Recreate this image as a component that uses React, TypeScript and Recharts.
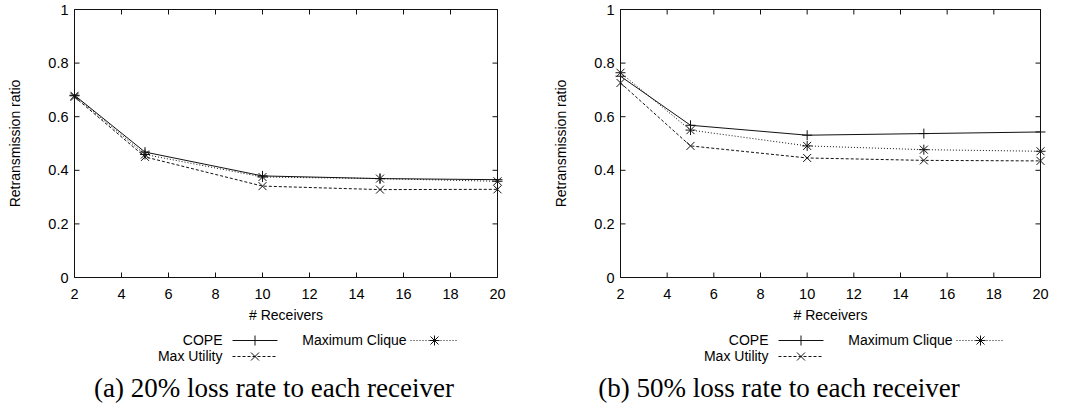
import React from "react";
import { LineChart, Line, XAxis, YAxis } from "recharts";

const receivers = [2, 5, 10, 15, 20];

// 20% loss rate
const copeLow = [0.68, 0.468, 0.379, 0.369, 0.365];
const utilityLow = [0.674, 0.45, 0.341, 0.328, 0.329];
const cliqueLow = [0.678, 0.459, 0.375, 0.369, 0.359];

// 50% loss rate
const copeHigh = [0.751, 0.568, 0.531, 0.537, 0.543];
const utilityHigh = [0.726, 0.491, 0.446, 0.437, 0.435];
const cliqueHigh = [0.764, 0.55, 0.491, 0.477, 0.471];

const xTicks = [2, 4, 6, 8, 10, 12, 14, 16, 18, 20];
const yTicks = [0, 0.2, 0.4, 0.6, 0.8, 1];

const SANS = "'Liberation Sans', Arial, Helvetica, sans-serif";
const SERIF = "'Liberation Serif', 'Times New Roman', serif";
const INK = "#111";
const TICK_LEN = 5;
const FONT_SIZE = 14.5;

type MarkerKind = "plus" | "cross" | "star";

interface SeriesDef {
  key: string;
  name: string;
  dash?: string;
  marker: MarkerKind;
}

const series: SeriesDef[] = [
  { key: "cope", name: "COPE", marker: "plus" },
  { key: "utility", name: "Max Utility", dash: "3 2", marker: "cross" },
  { key: "clique", name: "Maximum Clique", dash: "1 2", marker: "star" },
];

function markerPaths(kind: MarkerKind, cx: number, cy: number) {
  const p = 5;
  const c = 4;
  const plus = `M${cx - p},${cy}H${cx + p}M${cx},${cy - p}V${cy + p}`;
  const cross = `M${cx - c},${cy - c}L${cx + c},${cy + c}M${cx - c},${cy + c}L${cx + c},${cy - c}`;
  if (kind === "plus") return plus;
  if (kind === "cross") return cross;
  return plus + cross;
}

const makeDot = (kind: MarkerKind) => (props: any) => {
  const { cx, cy, index } = props;
  if (cx == null || cy == null) return <g key={`m-${index}`} />;
  return (
    <path
      key={`m-${kind}-${index}`}
      d={markerPaths(kind, cx, cy)}
      stroke={INK}
      strokeWidth={1}
      fill="none"
    />
  );
};

const dots = {
  plus: makeDot("plus"),
  cross: makeDot("cross"),
  star: makeDot("star"),
};

interface PanelProps {
  left: number;
  width: number;
  plotLeft: number;
  plotRight: number;
  captionCenter: number;
  cope: number[];
  utility: number[];
  clique: number[];
  caption: string;
}

const CHART_H = 330;
const PLOT_TOP = 9.5;
const PLOT_BOTTOM = 277.5;
const Y_AXIS_W = 40;
const X_AXIS_H = 20;

function KeyBox({ plotLeft, left }: { plotLeft: number; left: number }) {
  const x0 = plotLeft - left;
  const rows = [
    { s: series[0], textEnd: 148, s0: 158, s1: 203, y: 340 },
    { s: series[1], textEnd: 148, s0: 158, s1: 203, y: 356 },
    { s: series[2], textEnd: 332, s0: 336, s1: 384, y: 340 },
  ];
  return (
    <svg
      width={540}
      height={40}
      style={{ position: "absolute", left: 0, top: 328 }}
    >
      {rows.map((r) => {
        const cy = r.y - 328;
        const mid = x0 + (r.s0 + r.s1) / 2;
        return (
          <g key={r.s.key}>
            <text
              x={x0 + r.textEnd}
              y={cy}
              dy="0.35em"
              textAnchor="end"
              fontFamily={SANS}
              fontSize={14}
              fill="#000"
            >
              {r.s.name}
            </text>
            <line
              x1={x0 + r.s0}
              x2={x0 + r.s1}
              y1={cy + 0.5}
              y2={cy + 0.5}
              stroke={INK}
              strokeDasharray={r.s.dash}
            />
            <path
              d={markerPaths(r.s.marker, mid, cy + 0.5)}
              stroke={INK}
              fill="none"
            />
          </g>
        );
      })}
    </svg>
  );
}

const renderYLabel = (props: any) => {
  const vb = props.viewBox;
  const x = vb.x - 19;
  const y = vb.y + vb.height / 2;
  return (
    <text
      x={x}
      y={y}
      transform={`rotate(-90 ${x} ${y})`}
      textAnchor="middle"
      dy="0.35em"
      fontFamily={SANS}
      fontSize={14}
      fill="#000"
    >
      Retransmission ratio
    </text>
  );
};

// x-axis title, plus the top and right edges of the plot frame
const renderXLabel = (props: any) => {
  const vb = props.viewBox;
  const right = vb.x + vb.width;
  return (
    <g>
      <path
        d={`M${vb.x},${PLOT_TOP}H${right}V${vb.y}`}
        stroke={INK}
        strokeWidth={1}
        fill="none"
      />
      <text
        x={vb.x + vb.width / 2}
        y={vb.y + vb.height + 13}
        dy="0.71em"
        textAnchor="middle"
        fontFamily={SANS}
        fontSize={14}
        fill="#000"
      >
        # Receivers
      </text>
    </g>
  );
};

// bottom tick label with its mirrored inward tick on the top edge
const renderXTick = (props: any) => {
  const { x, y, payload } = props;
  return (
    <g>
      <line
        x1={x}
        x2={x}
        y1={PLOT_TOP}
        y2={PLOT_TOP + TICK_LEN}
        stroke={INK}
        strokeWidth={1}
      />
      <text
        x={x}
        y={y}
        dy="0.71em"
        textAnchor="middle"
        fontFamily={SANS}
        fontSize={FONT_SIZE}
        fill="#000"
      >
        {String(payload.value)}
      </text>
    </g>
  );
};

function Panel(p: PanelProps) {
  const rows = receivers.map((n, i) => ({
    n,
    cope: p.cope[i],
    utility: p.utility[i],
    clique: p.clique[i],
  }));
  const margin = {
    top: PLOT_TOP,
    bottom: CHART_H - PLOT_BOTTOM - X_AXIS_H,
    left: p.plotLeft - p.left - Y_AXIS_W,
    right: p.left + p.width - p.plotRight,
  };
  const plotRight = p.plotRight - p.left;

  // left tick label with its mirrored inward tick on the right edge
  const renderYTick = (props: any) => {
    const { x, y, payload } = props;
    return (
      <g>
        <line
          x1={plotRight - TICK_LEN}
          x2={plotRight}
          y1={y}
          y2={y}
          stroke={INK}
          strokeWidth={1}
        />
        <text
          x={x}
          y={y}
          dy="0.35em"
          textAnchor="end"
          fontFamily={SANS}
          fontSize={FONT_SIZE}
          fill="#000"
        >
          {String(payload.value)}
        </text>
      </g>
    );
  };

  return (
    <div
      style={{
        position: "absolute",
        left: p.left,
        top: 0,
        width: p.width,
        height: 413,
      }}
    >
      <LineChart width={p.width} height={CHART_H} data={rows} margin={margin}>
        <XAxis
          dataKey="n"
          type="number"
          domain={[2, 20]}
          ticks={xTicks}
          height={X_AXIS_H}
          tickSize={-TICK_LEN}
          tickMargin={16}
          tick={renderXTick}
          axisLine={{ stroke: INK }}
          tickLine={{ stroke: INK }}
          label={{ content: renderXLabel }}
        />
        <YAxis
          type="number"
          domain={[0, 1]}
          ticks={yTicks}
          width={Y_AXIS_W}
          tickSize={-TICK_LEN}
          tickMargin={11}
          tick={renderYTick}
          axisLine={{ stroke: INK }}
          tickLine={{ stroke: INK }}
          label={{ content: renderYLabel }}
        />
        {series.map((s) => (
          <Line
            key={s.key}
            dataKey={s.key}
            type="linear"
            stroke={INK}
            strokeWidth={1}
            strokeDasharray={s.dash}
            dot={dots[s.marker]}
            activeDot={false}
            isAnimationActive={false}
          />
        ))}
      </LineChart>
      <KeyBox plotLeft={p.plotLeft} left={p.left} />
      <div
        style={{
          position: "absolute",
          left: p.captionCenter - p.left - 300,
          width: 600,
          top: 373,
          textAlign: "center",
          fontFamily: SERIF,
          fontSize: 27,
          lineHeight: "30px",
          color: "#000",
          whiteSpace: "nowrap",
        }}
      >
        {p.caption}
      </div>
    </div>
  );
}

export default function App() {
  return (
    <div
      style={{
        position: "absolute",
        left: 0,
        top: 0,
        width: 1073,
        height: 413,
        background: "#fff",
        overflow: "hidden",
      }}
    >
      <Panel
        left={0}
        width={536}
        plotLeft={74.5}
        plotRight={497.5}
        captionCenter={274}
        cope={copeLow}
        utility={utilityLow}
        clique={cliqueLow}
        caption="(a) 20% loss rate to each receiver"
      />
      <Panel
        left={536}
        width={537}
        plotLeft={620.5}
        plotRight={1040.5}
        captionCenter={779}
        cope={copeHigh}
        utility={utilityHigh}
        clique={cliqueHigh}
        caption="(b) 50% loss rate to each receiver"
      />
    </div>
  );
}
